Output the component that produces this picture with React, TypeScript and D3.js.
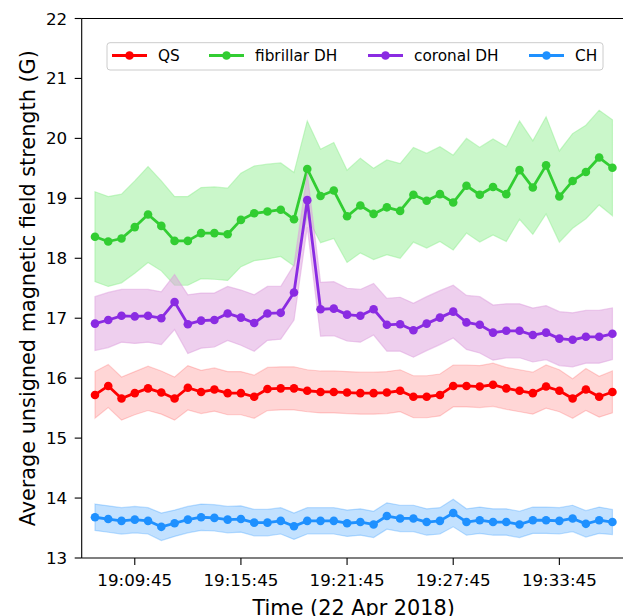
import * as d3 from "d3";

// 45 s cadence, 22 Apr 2018
const times = [
  "19:07:30", "19:08:15", "19:09:00", "19:09:45", "19:10:30", "19:11:15", "19:12:00", "19:12:45",
  "19:13:30", "19:14:15", "19:15:00", "19:15:45", "19:16:30", "19:17:15", "19:18:00", "19:18:45",
  "19:19:30", "19:20:15", "19:21:00", "19:21:45", "19:22:30", "19:23:15", "19:24:00", "19:24:45",
  "19:25:30", "19:26:15", "19:27:00", "19:27:45", "19:28:30", "19:29:15", "19:30:00", "19:30:45",
  "19:31:30", "19:32:15", "19:33:00", "19:33:45", "19:34:30", "19:35:15", "19:36:00", "19:36:45",
];

const tickLabels = ["19:09:45", "19:15:45", "19:21:45", "19:27:45", "19:33:45"];
const yTicks = [13, 14, 15, 16, 17, 18, 19, 20, 21, 22];

const qs = [
  15.72, 15.87, 15.66, 15.75, 15.83, 15.76, 15.66, 15.84, 15.77, 15.81,
  15.75, 15.75, 15.69, 15.82, 15.83, 15.83, 15.79, 15.77, 15.77, 15.76,
  15.75, 15.75, 15.76, 15.79, 15.69, 15.69, 15.72, 15.87, 15.87, 15.86,
  15.89, 15.83, 15.79, 15.75, 15.86, 15.79, 15.66, 15.81, 15.69, 15.77,
];
const qsErr = [
  0.39, 0.36, 0.36, 0.36, 0.37, 0.36, 0.36, 0.37, 0.36, 0.36,
  0.36, 0.36, 0.36, 0.36, 0.36, 0.36, 0.35, 0.35, 0.35, 0.35,
  0.35, 0.35, 0.35, 0.35, 0.35, 0.35, 0.35, 0.35, 0.35, 0.35,
  0.36, 0.35, 0.35, 0.35, 0.36, 0.35, 0.33, 0.35, 0.34, 0.35,
];

const fibrillar = [
  18.36, 18.28, 18.33, 18.52, 18.73, 18.54, 18.29, 18.29, 18.42, 18.42,
  18.4, 18.64, 18.75, 18.78, 18.81, 18.65, 19.49, 19.04, 19.13, 18.7,
  18.88, 18.74, 18.85, 18.79, 19.06, 18.96, 19.07, 18.93, 19.21, 19.06,
  19.19, 19.07, 19.47, 19.18, 19.55, 19.03, 19.29, 19.44, 19.68, 19.51,
];
const fibrillarErr = [
  0.75, 0.75, 0.74, 0.77, 0.8, 0.75, 0.74, 0.74, 0.76, 0.77,
  0.77, 0.78, 0.79, 0.79, 0.78, 0.78, 0.8, 0.78, 0.8, 0.77,
  0.79, 0.76, 0.79, 0.79, 0.79, 0.79, 0.79, 0.79, 0.79, 0.79,
  0.8, 0.79, 0.82, 0.78, 0.81, 0.76, 0.79, 0.78, 0.79, 0.8,
];

const coronal = [
  16.91, 16.97, 17.04, 17.03, 17.04, 17.0, 17.27, 16.9, 16.96, 16.97,
  17.08, 17.01, 16.92, 17.08, 17.09, 17.43, 18.97, 17.15, 17.16, 17.06,
  17.04, 17.15, 16.89, 16.9, 16.8, 16.91, 17.01, 17.11, 16.93, 16.89,
  16.76, 16.79, 16.79, 16.72, 16.76, 16.66, 16.64, 16.69, 16.69, 16.74,
];
const coronalErr = [
  0.45, 0.46, 0.44, 0.45, 0.44, 0.44, 0.46, 0.49, 0.46, 0.45,
  0.45, 0.46, 0.47, 0.45, 0.44, 0.46, 0.45, 0.45, 0.45, 0.44,
  0.44, 0.43, 0.44, 0.45, 0.45, 0.45, 0.45, 0.44, 0.45, 0.47,
  0.46, 0.45, 0.45, 0.45, 0.45, 0.45, 0.45, 0.44, 0.44, 0.43,
];

const ch = [
  13.68, 13.65, 13.62, 13.64, 13.62, 13.52, 13.58, 13.64, 13.68, 13.67,
  13.64, 13.65, 13.59, 13.59, 13.62, 13.53, 13.62, 13.62, 13.62, 13.58,
  13.6, 13.56, 13.7, 13.66, 13.66, 13.6, 13.62, 13.75, 13.6, 13.63,
  13.6, 13.6, 13.56, 13.63, 13.63, 13.62, 13.66, 13.57, 13.63, 13.6,
];
const chErr = [
  0.22, 0.22, 0.22, 0.22, 0.22, 0.23, 0.22, 0.22, 0.22, 0.22,
  0.22, 0.22, 0.22, 0.22, 0.22, 0.22, 0.22, 0.22, 0.22, 0.22,
  0.22, 0.22, 0.22, 0.22, 0.22, 0.22, 0.22, 0.23, 0.22, 0.22,
  0.22, 0.22, 0.22, 0.22, 0.22, 0.22, 0.22, 0.22, 0.22, 0.21,
];

const series = [
  { name: "QS", values: qs, err: qsErr, color: "#ff0000", band: "#ff0000", bandOpacity: 0.16 },
  { name: "fibrillar DH", values: fibrillar, err: fibrillarErr, color: "#32cd32", band: "#90ee90", bandOpacity: 0.48 },
  { name: "coronal DH", values: coronal, err: coronalErr, color: "#8a2be2", band: "#dda0dd", bandOpacity: 0.5 },
  { name: "CH", values: ch, err: chErr, color: "#1e90ff", band: "#1e90ff", bandOpacity: 0.27 },
];

const width = 623;
const height = 616;
const plot = { left: 81.7, top: 18.5, right: 625.7, bottom: 558 };
const font = "DejaVu Sans, sans-serif";
const legendItemX = [112, 209, 368, 529];

const parseTime = d3.timeParse("%H:%M:%S");

export default function App() {
  const dates = times.map((t) => parseTime(t) as Date);
  const x = d3
    .scaleTime()
    .domain([d3.timeSecond.offset(dates[0], -45), d3.timeSecond.offset(dates[dates.length - 1], 45)])
    .range([plot.left, plot.right]);
  const y = d3.scaleLinear().domain([13, 22]).range([plot.bottom, plot.top]);

  const lineGen = d3
    .line<number>()
    .x((_, i) => x(dates[i]))
    .y((d) => y(d));

  const areaGen = (vals: number[], err: number[]) =>
    d3
      .area<number>()
      .x((_, i) => x(dates[i]))
      .y0((d, i) => y(d - err[i]))
      .y1((d, i) => y(d + err[i]))(vals);

  return (
    <svg
      width={width}
      height={height}
      style={{ position: "absolute", left: 0, top: 0, background: "white" }}
      fontFamily={font}
    >
      <defs>
        <clipPath id="plotClip">
          <rect x={plot.left} y={plot.top} width={plot.right - plot.left} height={plot.bottom - plot.top} />
        </clipPath>
      </defs>

      <g clipPath="url(#plotClip)">
        {series.map((s) => (
          <g key={s.name}>
            <path
              d={areaGen(s.values, s.err) ?? ""}
              fill={s.band}
              fillOpacity={s.bandOpacity}
              stroke={s.band}
              strokeOpacity={s.bandOpacity}
              strokeWidth={1.2}
            />
            <path d={lineGen(s.values) ?? ""} fill="none" stroke={s.color} strokeWidth={2.8} strokeLinejoin="round" />
            {s.values.map((v, i) => (
              <circle key={i} cx={x(dates[i])} cy={y(v)} r={4.3} fill={s.color} />
            ))}
          </g>
        ))}
      </g>

      {/* spines */}
      <g stroke="black" strokeWidth={1.1} fill="none">
        <line x1={plot.left} x2={plot.left} y1={plot.top} y2={plot.bottom} />
        <line x1={plot.left} x2={plot.right} y1={plot.bottom} y2={plot.bottom} />
        <line x1={plot.left} x2={plot.right} y1={plot.top} y2={plot.top} />
        <line x1={plot.right} x2={plot.right} y1={plot.top} y2={plot.bottom} />
      </g>

      {/* y axis */}
      {yTicks.map((t) => (
        <g key={t}>
          <line x1={plot.left - 7} x2={plot.left} y1={y(t)} y2={y(t)} stroke="black" strokeWidth={1.1} />
          <text x={plot.left - 14.5} y={y(t)} dy="0.36em" textAnchor="end" fontSize={16.7} fill="black">
            {t}
          </text>
        </g>
      ))}

      {/* x axis */}
      {tickLabels.map((t) => {
        const px = x(parseTime(t) as Date);
        return (
          <g key={t}>
            <line x1={px} x2={px} y1={plot.bottom} y2={plot.bottom + 7} stroke="black" strokeWidth={1.1} />
            <text x={px} y={586} textAnchor="middle" fontSize={16.7} fill="black">
              {t}
            </text>
          </g>
        );
      })}

      <text x={(plot.left + plot.right) / 2} y={615} textAnchor="middle" fontSize={20.8} fill="black">
        Time (22 Apr 2018)
      </text>
      <text
        transform={`translate(35, ${(plot.top + plot.bottom) / 2}) rotate(-90)`}
        textAnchor="middle"
        fontSize={20.8}
        fill="black"
      >
        Average unsigned magnetic field strength (G)
      </text>

      {/* legend */}
      <g>
        <rect x={107} y={42.7} width={496} height={27.3} rx={3} fill="white" fillOpacity={0.8} stroke="#cccccc" strokeWidth={1} />
        {series.map((s, i) => {
          const lx = legendItemX[i];
          return (
            <g key={s.name}>
              <line x1={lx} x2={lx + 35} y1={55.5} y2={55.5} stroke={s.color} strokeWidth={2.8} />
              <circle cx={lx + 17.5} cy={55.5} r={4.3} fill={s.color} />
              <text x={lx + 46} y={55.5} dy="0.36em" fontSize={15.3} fill="black">
                {s.name}
              </text>
            </g>
          );
        })}
      </g>
    </svg>
  );
}
